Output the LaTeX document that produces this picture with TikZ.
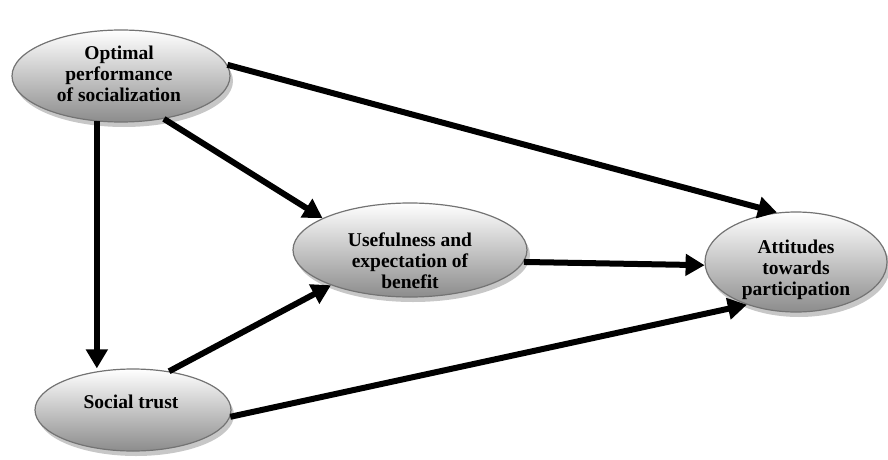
\documentclass[tikz,border=0pt]{standalone}
\usepackage{fontspec}
\setmainfont{Liberation Serif}
\usetikzlibrary{arrows.meta,shapes.geometric,shadows}
\begin{document}
\begin{tikzpicture}[x=1pt,y=-1pt,
  bubble/.style={ellipse, draw=black!55, line width=1.2pt, top color=white, bottom color=black!45,
    drop shadow={shadow xshift=3pt, shadow yshift=-5pt, fill=black!22, opacity=1}, inner sep=0pt},
  lbl/.style={font=\bfseries\fontsize{19.5}{21}\selectfont, align=center, inner sep=0pt},
  link/.style={line width=6pt, -{Triangle[length=19pt,width=21pt]}}
]
\useasboundingbox (0,0) rectangle (888,460);
\node[bubble, minimum width=218pt, minimum height=92pt] (A) at (121,76) {};
\node[bubble, minimum width=234pt, minimum height=94pt] (U) at (410,250) {};
\node[bubble, minimum width=182pt, minimum height=100pt] (T) at (796,262) {};
\node[bubble, minimum width=196pt, minimum height=82pt] (D) at (133,410) {};

\node[lbl] (tA) at (119,74) {Optimal\\performance\\of socialization};
\node[lbl] (tU) at (410,261) {Usefulness and\\expectation of\\benefit};
\node[lbl] (tT) at (796,270) {Attitudes\\towards\\participation};
\node[lbl] (tD) at (131,402) {Social trust};

\draw[link] (A.6) -- (T.111);
\draw[link] (A.-45) -- (U.160.5);
\draw[link] (A.-118) -- (A.-118 |- D.north);
\draw[link] (D.47) -- (U.204);
\draw[link] (D.-4.8) -- (T.221.6);
\draw[link] (U.-6.6) -- (T.182);
\end{tikzpicture}
\end{document}
